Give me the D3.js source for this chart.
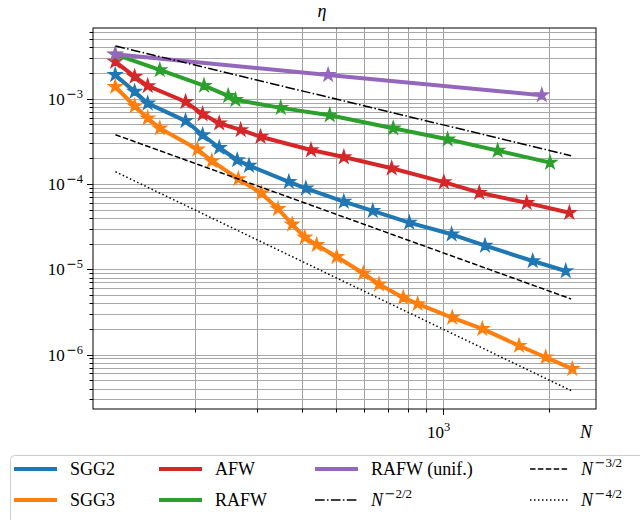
<!DOCTYPE html>
<html><head><meta charset="utf-8">
<script src="https://cdn.jsdelivr.net/npm/d3@7"></script>
<style>body{margin:0;background:#fff}svg{display:block}text{font-family:"Liberation Serif","DejaVu Serif",serif}</style>
</head><body><svg id="c" width="640" height="520"></svg>
<script>
// ---- data ----
const sgg2N   = [119,135,147,188,210,234,263,284,368,411,526,635,805,1060,1317,1796,2226];
const sgg2Eta = [1.90e-3,1.21e-3,8.8e-4,5.5e-4,3.75e-4,2.66e-4,1.91e-4,1.64e-4,1.06e-4,8.9e-5,6.2e-5,4.83e-5,3.52e-5,2.57e-5,1.89e-5,1.25e-5,9.55e-6];
const sgg3N   = [119,135,147,159,203,223,265,308,343,376,408,441,502,597,661,774,850,1064,1294,1643,1954,2323];
const sgg3Eta = [1.38e-3,8.2e-4,5.9e-4,4.5e-4,2.55e-4,1.86e-4,1.145e-4,7.8e-5,5.1e-5,3.37e-5,2.37e-5,1.93e-5,1.40e-5,8.98e-6,6.67e-6,4.65e-6,3.92e-6,2.71e-6,2.0e-6,1.27e-6,9.3e-7,6.8e-7];
const afwN    = [119,135,147,188,210,234,269,306,425,526,718,1008,1269,1727,2279];
const afwEta  = [2.72e-3,1.81e-3,1.41e-3,9.2e-4,6.6e-4,5.15e-4,4.3e-4,3.58e-4,2.5e-4,2.07e-4,1.53e-4,1.05e-4,7.9e-5,6.0e-5,4.6e-5];
const rafwN   = [119,159,212,248,260,349,480,725,1033,1430,2010];
const rafwEta = [3.3e-3,2.17e-3,1.42e-3,1.08e-3,9.7e-4,7.8e-4,6.4e-4,4.5e-4,3.34e-4,2.46e-4,1.78e-4];
const unifN   = [119,475,1905];
const unifEta = [3.32e-3,1.9e-3,1.1e-3];
const refN    = [119.2,2304];
const ref1Eta = [4.15e-3,2.148e-4];   // N^{-2/2}
const ref3Eta = [3.78e-4,4.49e-6];    // N^{-3/2}
const ref4Eta = [1.39e-4,3.78e-7];    // N^{-4/2}
const yTickExps = [-3,-4,-5,-6];
const xTickExps = [3];
const seriesNames = ["SGG2","SGG3","AFW","RAFW","RAFW (unif.)"];
const colors = ["#1f77b4","#ff7f0e","#d62728","#2ca02c","#9467bd"];

const svg = d3.select("#c");
const L=93,R=596,T=28,B=409;
const x = d3.scaleLog().domain([103,2710]).range([L,R]);
const y = d3.scaleLog().domain([6.74e-3,2.30e-7]).range([T,B]);

// grid
const xMinor=[], yMinor=[];
for (let e=2;e<=3;e++) for(let m=1;m<=9;m++){const v=m*Math.pow(10,e); if(v>=103&&v<=2710) xMinor.push(v);}
for (let e=-7;e<=-3;e++) for(let m=1;m<=9;m++){const v=m*Math.pow(10,e); if(v<=6.74e-3&&v>=2.3e-7) yMinor.push(v);}
const g = svg.append("g");
g.selectAll(".gx").data(xMinor).join("line").attr("x1",d=>Math.round(x(d))+0.5).attr("x2",d=>Math.round(x(d))+0.5)
 .attr("y1",T).attr("y2",B).attr("stroke","#a0a0a0").attr("stroke-width",1);
g.selectAll(".gy").data(yMinor).join("line").attr("y1",d=>Math.round(y(d))+0.5).attr("y2",d=>Math.round(y(d))+0.5)
 .attr("x1",L).attr("x2",R).attr("stroke","#a8a8a8").attr("stroke-width",1);

// clip
svg.append("clipPath").attr("id","clip").append("rect").attr("x",L).attr("y",T).attr("width",R-L).attr("height",B-T);
const pg = svg.append("g").attr("clip-path","url(#clip)");
const line = d3.line().x(d=>x(d[0])).y(d=>y(d[1]));
const seriesN=[sgg2N,sgg3N,afwN,rafwN,unifN];
const seriesE=[sgg2Eta,sgg3Eta,afwEta,rafwEta,unifEta];
const star = d3.symbol().type(d3.symbolStar).size(50);
seriesN.forEach((ns,i)=>{
  const pts = ns.map((n,j)=>[n,seriesE[i][j]]);
  pg.append("path").attr("d",line(pts)).attr("fill","none").attr("stroke",colors[i]).attr("stroke-width",4).attr("stroke-linejoin","round");
  pg.selectAll(null).data(pts).join("path").attr("d",star)
    .attr("transform",d=>`translate(${x(d[0])},${y(d[1])})`)
    .attr("fill",colors[i]).attr("stroke",colors[i]).attr("stroke-width",1.5).attr("stroke-linejoin","miter");
});
const refs=[[ref1Eta,"9.6,2.4,1.5,2.4"],[ref3Eta,"5.5,2.4"],[ref4Eta,"1.5,2.5"]];
refs.forEach(([e,dash])=>{
  pg.append("path").attr("d",line(refN.map((n,j)=>[n,e[j]]))).attr("fill","none")
    .attr("stroke","#000").attr("stroke-width",1.5).attr("stroke-dasharray",dash);
});

// axes frame
svg.append("rect").attr("x",L).attr("y",T).attr("width",R-L).attr("height",B-T).attr("fill","none").attr("stroke","#000").attr("stroke-width",1);

// ticks
const tg = svg.append("g");
tg.selectAll(null).data(yMinor).join("line").attr("x1",L).attr("x2",d=>yTickExps.some(e=>Math.abs(Math.log10(d)-e)<1e-6)?L-6:L-3.5)
  .attr("y1",d=>Math.round(y(d))+0.5).attr("y2",d=>Math.round(y(d))+0.5).attr("stroke","#000").attr("stroke-width",1);
tg.selectAll(null).data(xMinor).join("line").attr("y1",B).attr("y2",d=>xTickExps.some(e=>Math.abs(Math.log10(d)-e)<1e-6)?B+6:B+3.5)
  .attr("x1",d=>Math.round(x(d))+0.5).attr("x2",d=>Math.round(x(d))+0.5).attr("stroke","#000").attr("stroke-width",1);

// superscript helper: wide minus like TeX
function sup(t, str, size, dy){
  let first = true;
  for (const ch of str){
    const s = t.append("tspan").attr("font-size",size);
    if (first){ s.attr("dy",dy); first=false; }
    if (ch==="\u2212"){ s.attr("font-family","DejaVu Sans").attr("dx",1.5).text(ch); }
    else s.text(ch);
  }
}
yTickExps.forEach(e=>{
  const t = tg.append("text").attr("x",L-10).attr("y",y(Math.pow(10,e))+6).attr("text-anchor","end").attr("font-size",17);
  t.append("tspan").text("10");
  sup(t,"\u2212"+Math.abs(e),12.5,-7);
});
xTickExps.forEach(e=>{
  const t = tg.append("text").attr("x",x(Math.pow(10,e))-4).attr("y",B+29).attr("text-anchor","middle").attr("font-size",17);
  t.append("tspan").text("10");
  sup(t,String(e),12.5,-7);
});
svg.append("text").attr("x",586).attr("y",438).attr("text-anchor","middle").attr("font-size",18).attr("font-style","italic").text("N");
svg.append("text").attr("x",322).attr("y",17).attr("text-anchor","middle").attr("font-size",18).attr("font-style","italic").text("η");

// legend
const lg = svg.append("g");
lg.append("rect").attr("x",10.5).attr("y",455.5).attr("width",650).attr("height",80).attr("rx",4)
  .attr("fill","#fff").attr("stroke","#cccccc").attr("stroke-width",1);
const items = [
  {name:seriesNames[0],col:0,row:0,color:colors[0]},
  {name:seriesNames[1],col:0,row:1,color:colors[1]},
  {name:seriesNames[2],col:1,row:0,color:colors[2]},
  {name:seriesNames[3],col:1,row:1,color:colors[3]},
  {name:seriesNames[4],col:2,row:0,color:colors[4]},
  {name:"2/2",col:2,row:1,color:"#000",dash:"9.6,2.4,1.5,2.4",math:true},
  {name:"3/2",col:3,row:0,color:"#000",dash:"5.5,2.4",math:true},
  {name:"4/2",col:3,row:1,color:"#000",dash:"1.5,2.5",math:true}
];
const colX=[14,159,315,530], handleW=[43,43,43,38];
items.forEach(it=>{
  const hx=colX[it.col], hy=469+it.row*31;
  lg.append("line").attr("x1",hx).attr("x2",hx+handleW[it.col]).attr("y1",hy).attr("y2",hy)
    .attr("stroke",it.color).attr("stroke-width",it.dash?1.5:4).attr("stroke-dasharray",it.dash||null);
  const t = lg.append("text").attr("x",hx+handleW[it.col]+13).attr("y",hy+6).attr("font-size",18);
  if(it.math){
    t.append("tspan").attr("font-style","italic").text("N");
    sup(t,"\u2212"+it.name,13,-8);
  } else t.text(it.name);
});
</script></body></html>
